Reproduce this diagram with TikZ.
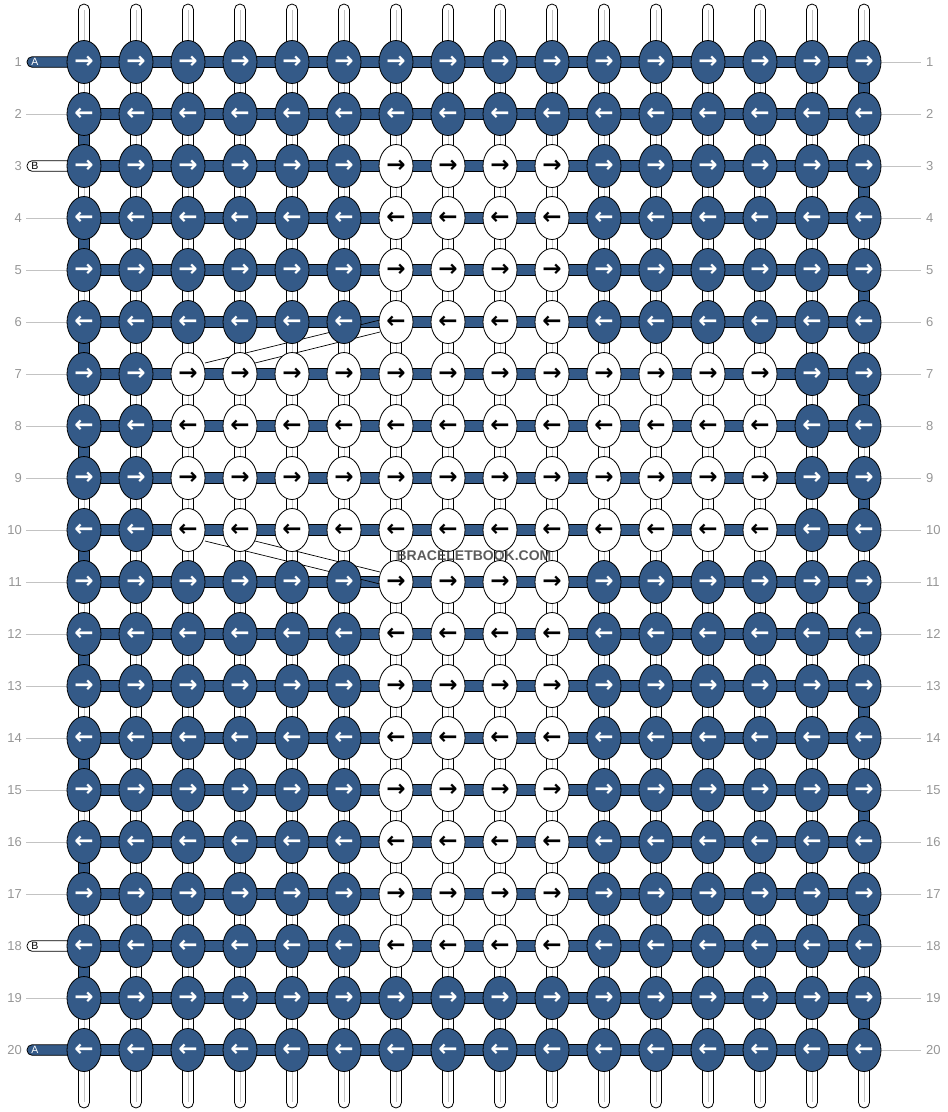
\documentclass[tikz,border=0pt]{standalone}
\usepackage{fontspec}
\setmainfont{Liberation Sans}
\newfontfamily\arrowfont{DejaVu Sans}
\usetikzlibrary{shapes.geometric}

\definecolor{threadblue}{RGB}{52,90,136}
\definecolor{labelgray}{RGB}{150,150,150}
\definecolor{guidegray}{RGB}{195,195,195}

\begin{document}
\begin{tikzpicture}[x=1pt, y=-1pt,
		knot/.style={draw, ellipse, minimum width=34pt, minimum height=43pt, inner sep=0pt, line width=0.8pt, font=\arrowfont\bfseries\fontsize{23}{23}\selectfont},
		darkknot/.style={knot, fill=threadblue, text=white},
		lightknot/.style={knot, fill=white, text=black},
		warp/.style={draw, fill=white, line width=0.8pt, rounded corners=5.5pt},
		weft/.style={draw, fill=threadblue, line width=0.8pt},
		startstrand/.style={draw, line width=0.8pt, rounded corners=5pt},
		rownum/.style={text=labelgray, inner sep=0pt, font=\fontsize{13}{15}\selectfont},
		guide/.style={draw=guidegray, line width=0.8pt}]
		\path[use as bounding box] (0,0) rectangle (948,1112);
		\foreach \c [evaluate=\c as \x using {84+52*(\c-1)}] in {1,...,16} {
			\draw[warp] ({\x-5.5},4) rectangle ({\x+5.5},1108);
			\draw[guidegray, line width=1pt] (\x,10) -- (\x,1102);
		}
		\foreach \r [evaluate=\r as \y using {62+52*(\r-1)}] in {1,...,20} {
			\draw[weft] (84,{\y-5.25}) rectangle (864,{\y+5.25});
			\draw[guide] (864,\y) -- (921,\y);
			\node[rownum, anchor=east] (left\r) at (22,\y) {\r};
			\node[rownum, anchor=west] (right\r) at (926,\y) {\r};
		}
		\foreach \r in {2,4,...,18}
			\draw[weft] (78.5,{62+52*(\r-1)}) rectangle (89.5,{62+52*\r});
		\foreach \r in {1,3,...,19}
			\draw[weft] (858.5,{62+52*(\r-1)}) rectangle (869.5,{62+52*\r});
		\foreach \r in {2,4,5,6,...,17,19}
			\draw[guide] (26,{62+52*(\r-1)}) -- (84,{62+52*(\r-1)});
		\foreach \r/\s/\f/\t in {1/A/threadblue/white, 3/B/white/black, 18/B/white/black, 20/A/threadblue/white} {
			\draw[startstrand, fill=\f] (27,{62+52*(\r-1)-5.25}) rectangle (90,{62+52*(\r-1)+5.25});
			\node[text=\t, inner sep=0pt, font=\fontsize{10.5}{10.5}\selectfont] (strand\s\r) at (35,{62+52*(\r-1)}) {\s};
		}
		\coordinate (wa) at (205,363);
		\coordinate (wb) at (380,320);
		\coordinate (wc) at (255,363);
		\coordinate (wd) at (380,332);
		\coordinate (we) at (205,541);
		\coordinate (wf) at (380,584);
		\coordinate (wg) at (255,541);
		\coordinate (wh) at (380,572);
		\draw[line width=0.7pt] (wa) -- (wb) (wc) -- (wd) (we) -- (wf) (wg) -- (wh);
		\foreach \r in {1,...,20} {
			\foreach \c in {1,...,16} {
				\pgfmathsetmacro\x{84+52*(\c-1)}
				\pgfmathsetmacro\y{62+52*(\r-1)}
				\pgfmathtruncatemacro\lite{((\r>=3 && \r<=18 && \c>=7 && \c<=10) || (\r>=7 && \r<=10 && \c>=3 && \c<=14)) ? 1 : 0}
				\pgfmathtruncatemacro\odd{mod(\r,2)}
				\ifnum\lite=1 \def\kstyle{lightknot}\else\def\kstyle{darkknot}\fi
				\ifnum\odd=1 \def\karrow{→}\else\def\karrow{←}\fi
				\node[\kstyle] (k\c-\r) at (\x,\y) {\karrow};
			}
		}
		\node[text=black!75, text opacity=0.85, inner sep=0pt, font=\bfseries\fontsize{14}{14}\selectfont] (mark) at (474,556) {BRACELETBOOK.COM};
	\end{tikzpicture}
\end{document}
